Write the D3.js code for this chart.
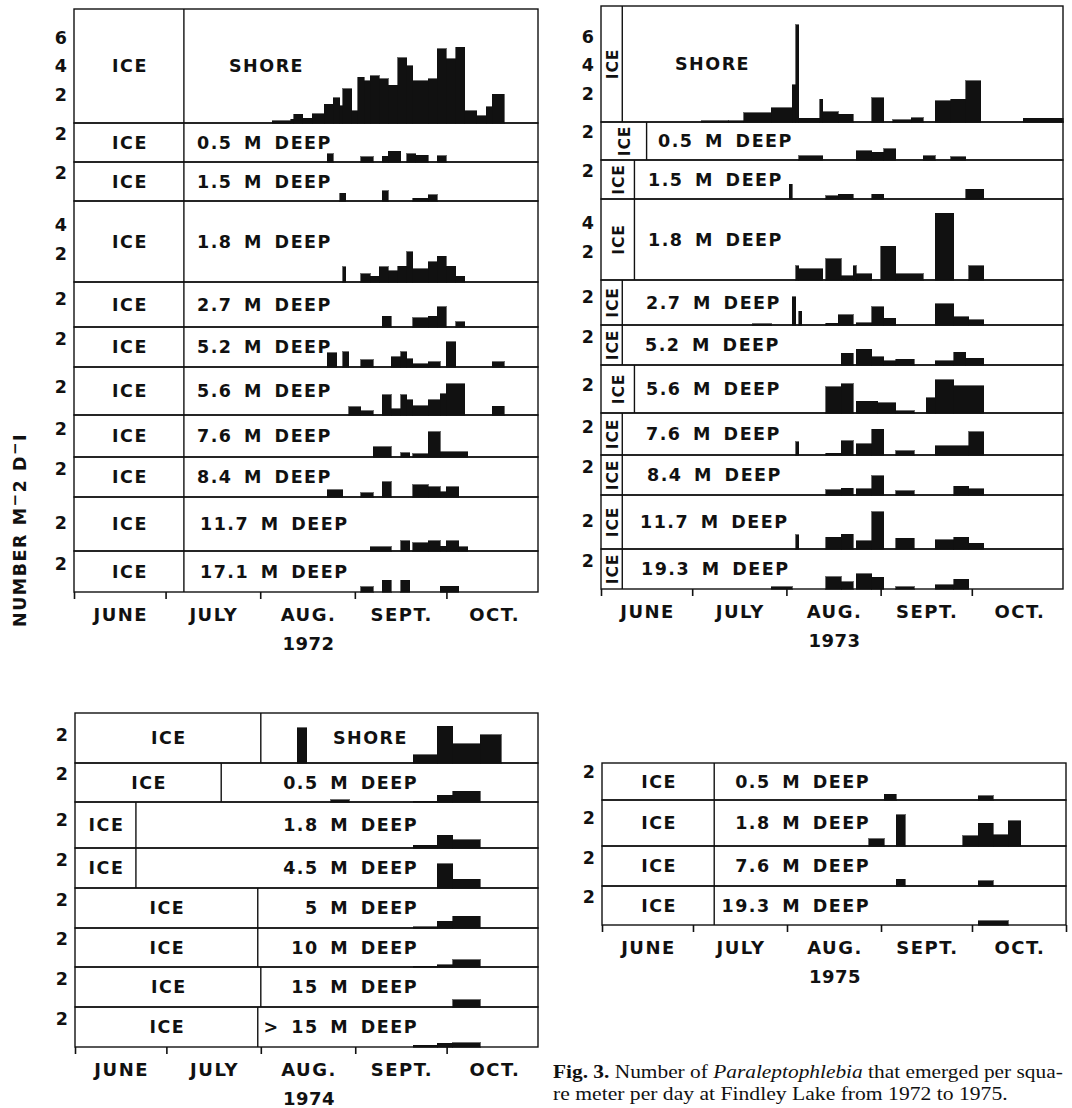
<!DOCTYPE html>
<html>
<head>
<meta charset="utf-8">
<script src="https://cdn.jsdelivr.net/npm/d3@7"></script>
<style>
  body { margin: 0; background: #fff; }
  .lettering { font-family: "DejaVu Sans", sans-serif; font-weight: bold; fill: #111; }
  .caption { font-family: "Liberation Serif", "Times New Roman", serif; fill: #111; }
</style>
</head>
<body>
<div id="chart-area"></div>
<script>

// SVG drawing area
var width = 1072,
    height = 1108;

var unitPx = 14.3;   // px per one emerged nymph m-2 d-1, same on every strip

// Data (days are counted from 1 June; bars are [start day, end day, number])

var months = ["JUNE", "JULY", "AUG.", "SEPT.", "OCT."];
var monthStart = [0, 30, 61, 92, 122];

// 1972
var sites1972 = ["SHORE", "0.5 M DEEP", "1.5 M DEEP", "1.8 M DEEP", "2.7 M DEEP", "5.2 M DEEP",
    "5.6 M DEEP", "7.6 M DEEP", "8.4 M DEEP", "11.7 M DEEP", "17.1 M DEEP"];
var iceEnd1972 = [36, 36, 36, 36, 36, 36, 36, 36, 36, 36, 36];
var yTicks1972 = [[2, 4, 6], [2], [2], [2, 4], [2], [2], [2], [2], [2], [2], [2]];
var bars1972 = [
    [[65,71,0.15],[71,72,0.25],[72,75,0.6],[75,78,0.33],[78,82,0.65],[82,85,1.3],[85,87,1.77],[87,88,1.2],
     [88,91,2.4],[91,93,0.84],[93,95,3.2],[95,97,2.94],[97,100,3.3],[100,103,3.1],[103,106,2.64],[106,109,4.57],
     [109,111,4.0],[111,116,2.94],[116,119,3.1],[119,122,5.2],[122,125,4.5],[125,128,5.3],[128,132,0.84],
     [132,135,0.5],[135,137,1.14],[137,141,2.0]],
    [[83,85,0.59],[94,98,0.35],[101,103,0.4],[103,107,0.75],[109,112,0.59],[112,116,0.47],[119,122,0.42]],
    [[87,89,0.53],[101,103,0.72],[111,116,0.18],[116,119,0.42]],
    [[88,89,1.05],[94,97,0.59],[97,100,0.4],[100,103,1.05],[103,106,0.77],[106,109,1.1],[109,111,2.1],
     [111,116,0.94],[116,119,1.4],[119,122,1.8],[122,125,1.1],[125,128,0.4]],
    [[101,104,0.74],[111,116,0.63],[116,119,0.74],[119,122,1.4],[125,128,0.37]],
    [[83,86,1.0],[88,90,1.05],[94,98,0.52],[104,107,0.7],[107,109,1.05],[109,111,0.59],[111,116,0.24],
     [116,120,0.35],[122,125,1.75],[137,141,0.35]],
    [[90,94,0.56],[94,98,0.3],[101,104,1.42],[104,107,0.42],[107,109,1.42],[109,111,1.07],[111,116,0.65],
     [116,120,1.07],[120,122,1.47],[122,128,2.17],[137,141,0.6]],
    [[98,104,0.7],[107,110,0.31],[111,116,0.24],[116,120,1.75],[120,129,0.35]],
    [[83,88,0.52],[94,98,0.28],[101,104,1.05],[111,116,0.87],[116,120,0.7],[120,122,0.35],[122,126,0.7]],
    [[97,104,0.28],[107,110,0.7],[111,116,0.59],[116,120,0.7],[120,122,0.33],[122,126,0.7],[126,129,0.28]],
    [[94,98,0.35],[101,104,0.82],[107,110,0.82],[120,126,0.4]]
];

// 1973
var sites1973 = ["SHORE", "0.5 M DEEP", "1.5 M DEEP", "1.8 M DEEP", "2.7 M DEEP", "5.2 M DEEP",
    "5.6 M DEEP", "7.6 M DEEP", "8.4 M DEEP", "11.7 M DEEP", "19.3 M DEEP"];
var iceEnd1973 = [7, 15, 11, 11, 7, 7, 11, 7, 7, 7, 7];
var yTicks1973 = [[2, 4, 6], [2], [2], [2, 4], [2], [2], [2], [2], [2], [2], [2]];
var bars1973 = [
    [[33,42,0.07],[42,47,0.1],[47,56,0.65],[56,63,1.0],[63,64,2.6],[64,65,6.8],[65,72,0.26],[72,73,1.6],
     [73,78,0.7],[78,83,0.54],[89,93,1.7],[96,102,0.14],[102,106,0.3],[110,115,1.47],[115,120,1.59],
     [120,125,2.87],[139,152,0.26]],
    [[65,73,0.3],[84,89,0.65],[89,93,0.53],[93,97,0.77],[106,110,0.3],[115,120,0.23]],
    [[62,63,1.03],[74,78,0.21],[78,83,0.33],[89,93,0.33],[120,126,0.68]],
    [[64,65,1.0],[65,73,0.77],[74,79,1.47],[79,83,0.3],[83,84,1.0],[84,89,0.42],[92,97,2.35],[97,106,0.42],
     [110,116,4.66],[121,126,1.0]],
    [[50,56,0.08],[63,64,1.98],[65,66,0.95],[74,78,0.11],[78,83,0.72],[84,89,0.14],[89,93,1.28],[93,97,0.46],
     [110,116,1.47],[116,121,0.58],[121,126,0.35]],
    [[79,83,0.82],[84,89,1.1],[89,93,0.58],[93,97,0.3],[97,103,0.4],[110,116,0.28],[116,120,0.89],[120,126,0.47]],
    [[74,79,1.82],[79,83,2.05],[84,91,0.82],[91,97,0.7],[97,103,0.14],[107,110,1.05],[110,116,2.33],[116,126,1.89]],
    [[64,65,0.93],[74,79,0.12],[79,83,0.98],[84,89,0.77],[89,93,1.8],[97,103,0.3],[110,121,0.63],[121,126,1.63]],
    [[74,79,0.35],[79,83,0.46],[84,89,0.42],[89,93,1.35],[97,103,0.3],[116,121,0.6],[121,126,0.42]],
    [[64,65,0.98],[74,79,0.82],[79,83,1.03],[84,89,0.58],[89,93,2.6],[97,103,0.75],[110,116,0.63],
     [116,121,0.82],[121,126,0.4]],
    [[56,63,0.16],[74,79,0.86],[79,83,0.51],[84,89,1.05],[89,93,0.82],[97,103,0.16],[110,116,0.28],[116,121,0.68]]
];

// 1974
var sites1974 = ["SHORE", "0.5 M DEEP", "1.8 M DEEP", "4.5 M DEEP", "5 M DEEP", "10 M DEEP", "15 M DEEP", "> 15 M DEEP"];
var iceEnd1974 = [61, 48, 20, 20, 60, 60, 61, 60];
var yTicks1974 = [[2], [2], [2], [2], [2], [2], [2], [2]];
var bars1974 = [
    [[73,76,2.45],[111,119,0.58],[119,124,2.56],[124,133,1.33],[133,140,1.98]],
    [[84,90,0.16],[111,119,0.06],[119,124,0.46],[124,133,0.74]],
    [[111,119,0.18],[119,124,0.88],[124,133,0.58]],
    [[119,124,1.7],[124,133,0.6]],
    [[111,119,0.08],[119,124,0.47],[124,133,0.82]],
    [[111,119,0.06],[119,124,0.16],[124,133,0.51]],
    [[124,133,0.51]],
    [[111,119,0.12],[119,124,0.25],[124,133,0.3]]
];

// 1975
var sites1975 = ["0.5 M DEEP", "1.8 M DEEP", "7.6 M DEEP", "19.3 M DEEP"];
var iceEnd1975 = [37, 37, 37, 37];
var yTicks1975 = [[2], [2], [2], [2]];
var bars1975 = [
    [[93,97,0.4],[124,129,0.28]],
    [[88,93,0.49],[97,100,2.17],[119,124,0.7],[124,129,1.59],[129,134,0.77],[134,138,1.75]],
    [[97,100,0.47],[124,129,0.35]],
    [[124,134,0.28]]
];

// Layout of the four panels (pixels)
var panels = [
    {year: "1972", sites: sites1972, ice: iceEnd1972, yTicks: yTicks1972, bars: bars1972,
     left: 74, right: 538, endDay: 152, top: 9,
     heights: [114, 39, 39, 81, 45, 40, 48, 42, 40, 54, 41],
     labelX: [229, 197, 197, 197, 197, 197, 197, 197, 197, 200, 200], anchor: "start"},
    {year: "1973", sites: sites1973, ice: iceEnd1973, yTicks: yTicks1973, bars: bars1973,
     left: 601, right: 1063, endDay: 152, top: 6,
     heights: [116, 38, 39, 81, 45, 40, 48, 42, 40, 54, 40],
     labelX: [675, 658, 648, 648, 646, 645, 646, 646, 647, 640, 641], anchor: "start"},
    {year: "1974", sites: sites1974, ice: iceEnd1974, yTicks: yTicks1974, bars: bars1974,
     left: 75, right: 538, endDay: 152, top: 713,
     heights: [50, 39, 46, 40, 40, 39, 40, 40],
     labelX: [408, 418, 418, 418, 418, 418, 418, 418], anchor: "end"},
    {year: "1975", sites: sites1975, ice: iceEnd1975, yTicks: yTicks1975, bars: bars1975,
     left: 602, right: 1066, endDay: 153, top: 763,
     heights: [37, 46, 40, 39],
     labelX: [870, 870, 870, 870], anchor: "end"}
];

var ink = "#111";

var svg = d3.select("#chart-area").append("svg")
    .attr("width", width)
    .attr("height", height)
    .style("display", "block");

svg.append("rect").attr("width", width).attr("height", height).attr("fill", "#fff");

panels.forEach(drawPanel);

function drawPanel(p) {
    var x = d3.scaleLinear()
        .domain([0, p.endDay])
        .range([p.left, p.right]);

    var g = svg.append("g").attr("class", "panel-" + p.year);
    var rowTop = p.top;

    p.sites.forEach(function (site, i) {
        var h = p.heights[i],
            bottom = rowTop + h;
        var y = d3.scaleLinear()
            .domain([0, h / unitPx])
            .range([bottom, rowTop]);

        // bars
        g.selectAll(null)
            .data(p.bars[i])
            .enter().append("rect")
            .attr("class", "bar")
            .attr("x", function (d) { return x(d[0]); })
            .attr("width", function (d) { return x(d[1]) - x(d[0]); })
            .attr("y", function (d) { return y(d[2]); })
            .attr("height", function (d) { return bottom - y(d[2]); })
            .attr("fill", ink)
            .attr("stroke", ink)
            .attr("stroke-width", 0.6)
            .attr("shape-rendering", "crispEdges");

        // strip frame
        g.append("rect")
            .attr("x", p.left)
            .attr("y", rowTop)
            .attr("width", p.right - p.left)
            .attr("height", h)
            .attr("fill", "none")
            .attr("stroke", ink)
            .attr("stroke-width", 1.4);

        // end of ice cover
        var xi = x(p.ice[i]);
        g.append("line")
            .attr("x1", xi).attr("x2", xi)
            .attr("y1", rowTop).attr("y2", bottom)
            .attr("stroke", ink)
            .attr("stroke-width", 1.4);

        var cx = (p.left + xi) / 2,
            cy = rowTop + h / 2;
        var ice = g.append("text")
            .attr("class", "lettering")
            .attr("text-anchor", "middle")
            .style("font-size", "17.5px")
            .style("letter-spacing", "1.5px")
            .text("ICE");
        if (xi - p.left < 50) {
            ice.attr("transform", "translate(" + (cx + 6) + "," + cy + ") rotate(-90)")
                .style("font-size", "15.5px")
                .style("letter-spacing", "1px");
        } else {
            ice.attr("x", cx + 1).attr("y", cy + 6);
        }

        // site label
        g.append("text")
            .attr("class", "lettering")
            .attr("x", p.labelX[i])
            .attr("y", cy + 6)
            .attr("text-anchor", p.anchor)
            .style("font-size", "17.5px")
            .style("letter-spacing", "1.5px")
            .style("word-spacing", "4px")
            .text(site);

        // y tick numbers
        g.selectAll(null)
            .data(p.yTicks[i])
            .enter().append("text")
            .attr("class", "lettering ytick")
            .attr("x", p.left - 7)
            .attr("y", function (d) { return y(d) + 6.5; })
            .attr("text-anchor", "end")
            .style("font-size", "17.5px")
            .text(function (d) { return d; });

        rowTop = bottom;
    });

    // month axis under the last strip
    var tickDays = monthStart.filter(function (d) { return d <= p.endDay; });
    if (p.endDay >= 153) tickDays = tickDays.concat([153]);

    var axis = g.append("g")
        .attr("transform", "translate(0," + rowTop + ")")
        .call(d3.axisBottom(x)
            .tickValues(tickDays)
            .tickSize(7)
            .tickSizeOuter(0)
            .tickFormat(""));
    axis.select(".domain").remove();
    axis.selectAll("line").attr("stroke", ink).attr("stroke-width", 1.6);

    g.selectAll(null)
        .data(months)
        .enter().append("text")
        .attr("class", "lettering month")
        .attr("x", function (d, i) {
            var a = monthStart[i],
                b = i + 1 < monthStart.length ? monthStart[i + 1] : 153;
            return (x(a) + x(b)) / 2 + 1;
        })
        .attr("y", rowTop + 29)
        .attr("text-anchor", "middle")
        .style("font-size", "18px")
        .style("letter-spacing", "1.5px")
        .text(function (d) { return d; });

    g.append("text")
        .attr("class", "lettering")
        .attr("x", (x(61) + x(92)) / 2 + 1)
        .attr("y", rowTop + 58)
        .attr("text-anchor", "middle")
        .style("font-size", "18px")
        .style("letter-spacing", "0.5px")
        .text(p.year);
}

// y axis title
var yTitle = svg.append("text")
    .attr("class", "lettering")
    .attr("transform", "translate(26,530) rotate(-90)")
    .attr("text-anchor", "middle")
    .style("font-size", "17.5px")
    .style("letter-spacing", "1.5px");
yTitle.append("tspan").text("NUMBER M");
yTitle.append("tspan").attr("dy", -6).style("font-size", "15px").text("\u2212");
yTitle.append("tspan").attr("dy", 6).text("2 D");
yTitle.append("tspan").attr("dy", -6).style("font-size", "15px").text("\u2212");
yTitle.append("tspan").attr("dy", 6).text("I");

// caption
var captionLines = [
    [["Fig. 3.", "bold", "normal"], [" Number of ", "normal", "normal"],
     ["Paraleptophlebia", "normal", "italic"], [" that emerged per squa-", "normal", "normal"]],
    [["re meter per day at Findley Lake from 1972 to 1975.", "normal", "normal"]]
];
var captionWidth = [510, 455];

captionLines.forEach(function (line, i) {
    var cg = svg.append("g")
        .attr("transform", "translate(553," + (1078 + i * 21.5) + ")");
    var t = cg.append("text")
        .attr("class", "caption")
        .style("font-size", "18px");
    line.forEach(function (part) {
        t.append("tspan")
            .style("font-weight", part[1])
            .style("font-style", part[2])
            .text(part[0]);
    });
    var w = t.node().getComputedTextLength();
    cg.attr("transform", "translate(553," + (1078 + i * 21.5) + ") scale(" + (captionWidth[i] / w) + ",1)");
});

</script>
</body>
</html>
